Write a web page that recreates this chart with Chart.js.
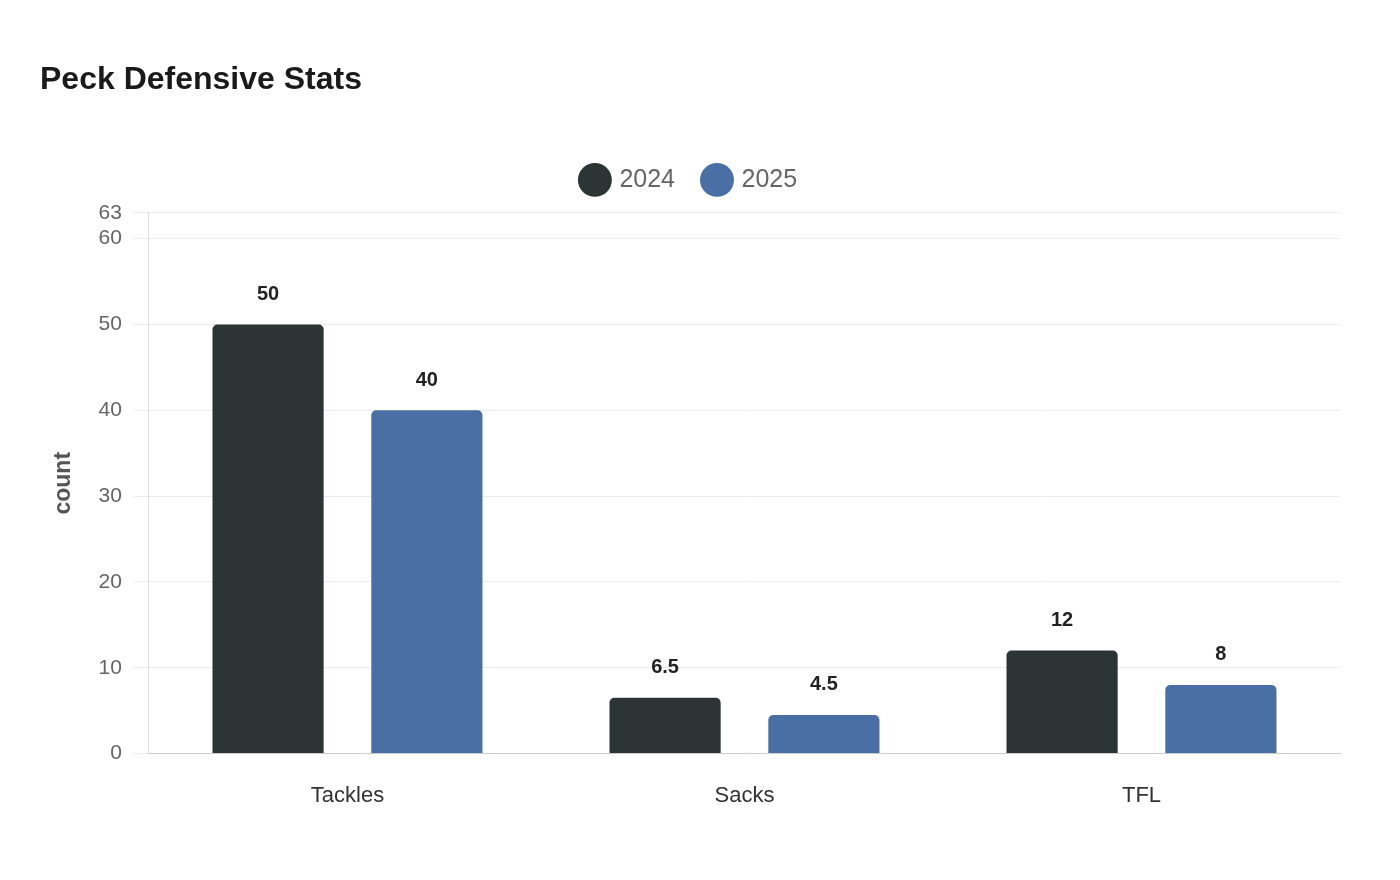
<!DOCTYPE html>
<html>
<head>
<meta charset="utf-8">
<script src="https://cdn.jsdelivr.net/npm/chart.js@4/dist/chart.umd.min.js"></script>
<style>
  html, body { margin: 0; padding: 0; background: #fff; }
  #wrap { width: 1400px; height: 880px; }
</style>
</head>
<body>
<div id="wrap"><canvas id="myChart"></canvas></div>
<script>
var categories = ['Tackles', 'Sacks', 'TFL']
var stats2024 = [50, 6.5, 12]
var stats2025 = [40, 4.5, 8]
var yTicks = [0, 10, 20, 30, 40, 50, 60, 63]

var FONT = '"Liberation Sans", Arial, sans-serif'

// numbers above each bar
var barLabels = {
	id: 'barLabels',
	afterDatasetsDraw: function(chart) {
		var ctx = chart.ctx
		ctx.save()
		ctx.font = 'bold 20px ' + FONT
		ctx.fillStyle = '#222'
		ctx.textAlign = 'center'
		ctx.textBaseline = 'middle'
		chart.data.datasets.forEach(function(ds, i) {
			chart.getDatasetMeta(i).data.forEach(function(bar, j) {
				ctx.fillText(String(ds.data[j]), bar.x, bar.y - 30)
			})
		})
		ctx.restore()
	}
}

// a bit more room under the legend
var legendGap = {
	id: 'legendGap',
	beforeLayout: function(chart) {
		var lg = chart.legend
		if (lg && !lg._gapPatched) {
			var fit = lg.fit
			lg.fit = function() {
				fit.call(this)
				this.height += 10.5
			}
			lg._gapPatched = true
		}
	}
}

var ctx = document.getElementById('myChart').getContext('2d')
var chart = new Chart(ctx, {
	type: 'bar',
	data: {
		labels: categories,
		datasets: [{
			label: '2024',
			data: stats2024,
			backgroundColor: '#2d3436',
			borderRadius: 5,
			categoryPercentage: 0.8,
			barPercentage: 0.7
		}, {
			label: '2025',
			data: stats2025,
			backgroundColor: '#4a6fa5',
			borderRadius: 5,
			categoryPercentage: 0.8,
			barPercentage: 0.7
		}]
	},
	options: {
		responsive: true,
		maintainAspectRatio: false,
		animation: false,
		layout: { padding: { left: 40, right: 60, top: 0, bottom: 50 } },
		plugins: {
			title: {
				display: true,
				text: 'Peck Defensive Stats',
				align: 'start',
				color: '#1a1a1a',
				font: { family: FONT, size: 32, weight: 'bold' },
				padding: { top: 61, bottom: 38 }
			},
			legend: {
				display: true,
				labels: {
					usePointStyle: true,
					pointStyle: 'circle',
					boxWidth: 24,
					boxHeight: 24,
					padding: 30,
					color: '#666',
					font: { family: FONT, size: 25 }
				}
			},
			tooltip: { enabled: false }
		},
		scales: {
			x: {
				grid: { display: false },
				border: { display: true, color: '#ccc' },
				ticks: {
					color: '#333',
					padding: 21,
					font: { family: FONT, size: 22 }
				}
			},
			y: {
				min: 0,
				max: 63,
				afterBuildTicks: function(axis) {
					axis.ticks = yTicks.map(function(v) { return { value: v } })
				},
				grid: { color: '#ebebeb', tickLength: 15 },
				border: { display: true, color: '#ddd' },
				ticks: {
					color: '#666',
					padding: 12,
					font: { family: FONT, size: 21 }
				},
				title: {
					display: true,
					text: 'count',
					color: '#555',
					font: { family: FONT, size: 23, weight: 'bold' },
					padding: { top: 9.5, bottom: 9.5 }
				}
			}
		}
	},
	plugins: [barLabels, legendGap]
})
</script>
</body>
</html>
